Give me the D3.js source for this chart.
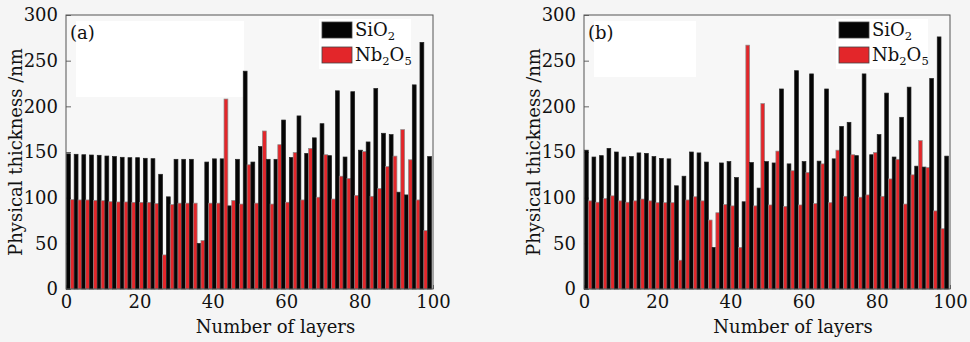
<!DOCTYPE html>
<html>
<head>
<meta charset="utf-8">
<script src="https://cdn.jsdelivr.net/npm/d3@7"></script>
<style>
  html, body { margin: 0; padding: 0; background: #f5f5f5; }
  svg { display: block; font-family: "DejaVu Serif", "Liberation Serif", serif; }
</style>
</head>
<body>
<svg id="chart" width="970" height="342"></svg>
<script>
// Physical thickness of each layer in two multilayer designs.
// Odd layers are SiO2, even layers are Nb2O5.
const panelNames = ["(a)", "(b)"];
const materials = ["SiO2", "Nb2O5"];

const sio2A = [148, 147.5, 147, 146.7, 146.4, 145.6, 145, 144.2, 143.8, 143.8, 143.1, 142.7,
  125.6, 100.9, 142, 142, 142, 50, 139, 142.5, 142.5, 91, 142, 238.5, 139, 156, 142, 142,
  185, 144, 189.5, 148.5, 165.5, 181, 146, 217, 144.5, 216, 152, 161, 219.5, 170.5, 169,
  106, 103, 223.5, 270, 145];
const nb2o5A = [97.8, 97.5, 97.5, 97.1, 96.7, 95.6, 95.3, 95.3, 94.9, 94.9, 94.9, 93.5,
  37.3, 92.4, 94, 94, 94, 53, 94, 94, 208, 97, 93, 136, 94, 173, 93, 158, 95, 149.5, 97.5,
  154, 100.5, 147, 98.5, 123.5, 121, 102.5, 150.5, 101.5, 110, 134, 145.5, 174.5, 141.5,
  97.5, 64];

const sio2B = [152, 144.5, 146, 154, 150, 144.5, 145, 149, 148.5, 145, 143, 142.5,
  113, 123.5, 150, 149, 139, 45.5, 138, 139.5, 122, 95.5, 138.5, 110.5, 139.5, 138, 219,
  137, 239, 139.5, 235.5, 140, 219, 142.5, 178, 182.5, 146, 235.5, 147, 169, 214.5, 144.5,
  188, 221, 134.5, 133.5, 230.5, 276, 145.5];
const nb2o5B = [96.5, 95, 99, 102, 96.5, 95, 96.5, 98.5, 96.5, 94.5, 94.5, 94.5,
  31.5, 97.5, 101, 96.5, 75.5, 83.5, 92.5, 91, 45.5, 267, 91, 203, 92, 151, 90.5, 129.5,
  92, 127.5, 93.5, 137, 94.5, 152, 101.5, 147, 100.5, 103, 149.5, 101.5, 120.5, 142, 93,
  125, 162.5, 133, 85.5, 66];

const yTicks = [0, 50, 100, 150, 200, 250, 300];
const xTicks = [0, 20, 40, 60, 80, 100];
const xTitle = "Number of layers";
const yTitle = "Physical thickness /nm";
const barColors = ["#050505", "#e3262a"];

const svg = d3.select("#chart");
const plotTop = 15, plotBottom = 289;
const panels = [
  { name: panelNames[0], left: 66, right: 433, sio2: sio2A, nb2o5: nb2o5A },
  { name: panelNames[1], left: 584, right: 950, sio2: sio2B, nb2o5: nb2o5B }
];

// Interleave the two materials into one layer stack.
function buildStack(sio2, nb2o5) {
  const layers = [];
  sio2.forEach((v, i) => {
    layers.push({ layer: layers.length + 1, mat: 0, value: v });
    if (i < nb2o5.length) layers.push({ layer: layers.length + 1, mat: 1, value: nb2o5[i] });
  });
  return layers;
}

// Label with numeric subscripts (SiO2, Nb2O5)
function chemText(sel, formula, size) {
  const parts = formula.match(/[A-Za-z]+|\d+/g);
  parts.forEach((p, i) => {
    if (/^\d+$/.test(p)) {
      sel.append("tspan").attr("font-size", size * 0.64).attr("dy", 4).text(p);
    } else {
      const t = sel.append("tspan").text(p);
      if (i > 0) t.attr("dy", -4);
    }
  });
}

panels.forEach(p => {
  const g = svg.append("g");
  const layers = buildStack(p.sio2, p.nb2o5);

  const y = d3.scaleLinear().domain([0, 300]).range([plotBottom, plotTop]);
  const xAxisScale = d3.scaleLinear().domain([0, 100]).range([p.left, p.right]);
  const xBand = d3.scaleBand().domain(layers.map(d => d.layer))
    .range([p.left + 0.5, p.right - 1.5]).paddingInner(0).paddingOuter(0);

  // plot background and light label patches
  g.append("rect").attr("x", p.left).attr("y", plotTop)
    .attr("width", p.right - p.left).attr("height", plotBottom - plotTop).attr("fill", "#f7f7f7");
  g.append("rect").attr("x", p.left + 10).attr("y", plotTop + 6)
    .attr("width", p.name === "(a)" ? 168 : 102).attr("height", p.name === "(a)" ? 76 : 56)
    .attr("fill", "#ffffff");

  // y axis (ticks point inward)
  const yAxis = g.append("g").attr("transform", `translate(${p.left},0)`)
    .call(d3.axisLeft(y).tickValues(yTicks).tickSizeInner(-5).tickSizeOuter(0).tickPadding(8));
  yAxis.select(".domain").remove();
  yAxis.selectAll(".tick line").attr("stroke", "#666");
  yAxis.selectAll(".tick text").attr("font-size", 18).attr("fill", "#111")
    .attr("font-family", "DejaVu Serif, serif");

  // x axis
  const xAxis = g.append("g").attr("transform", `translate(0,${plotBottom})`)
    .call(d3.axisBottom(xAxisScale).tickValues(xTicks).tickSizeInner(-4).tickSizeOuter(0).tickPadding(6));
  xAxis.select(".domain").remove();
  xAxis.selectAll(".tick line").attr("stroke", "#666");
  xAxis.selectAll(".tick text").attr("font-size", 18).attr("fill", "#111")
    .attr("font-family", "DejaVu Serif, serif");

  // bars
  g.append("g").selectAll("rect").data(layers).join("rect")
    .attr("x", d => xBand(d.layer))
    .attr("y", d => y(d.value))
    .attr("width", xBand.bandwidth())
    .attr("height", d => y(0) - y(d.value))
    .attr("fill", d => barColors[d.mat])
    .attr("stroke", d => d.mat === 0 ? "#222" : "#8c8c8c")
    .attr("stroke-width", 0.7);

  // frame
  g.append("rect").attr("x", p.left).attr("y", plotTop)
    .attr("width", p.right - p.left).attr("height", plotBottom - plotTop)
    .attr("fill", "none").attr("stroke", "#555").attr("stroke-width", 1);

  // panel tag
  g.append("text").attr("x", p.left + 4).attr("y", plotTop + 24)
    .attr("font-size", 18).attr("fill", "#111").text(p.name);

  // legend
  const lg = g.append("g").attr("transform", `translate(${p.right - 111},${plotTop + 7})`);
  lg.append("rect").attr("x", -3).attr("y", -3).attr("width", 92).attr("height", 50).attr("fill", "#ffffff");
  materials.forEach((m, i) => {
    lg.append("rect").attr("x", 0).attr("y", i * 25).attr("width", 30).attr("height", 16)
      .attr("fill", barColors[i]).attr("stroke", "#444").attr("stroke-width", 0.8);
    const t = lg.append("text").attr("x", 33).attr("y", i * 25 + 14)
      .attr("font-size", 18).attr("fill", "#111");
    chemText(t, m, 18);
  });

  // axis titles
  g.append("text").attr("x", (p.left + p.right) / 2 + 26).attr("y", 333)
    .attr("text-anchor", "middle").attr("font-size", 18).attr("fill", "#111").text(xTitle);
  g.append("text")
    .attr("transform", `translate(${p.left - 44},${(plotTop + plotBottom) / 2}) rotate(-90)`)
    .attr("text-anchor", "middle").attr("font-size", 18).attr("fill", "#111").text(yTitle);
});
</script>
</body>
</html>
